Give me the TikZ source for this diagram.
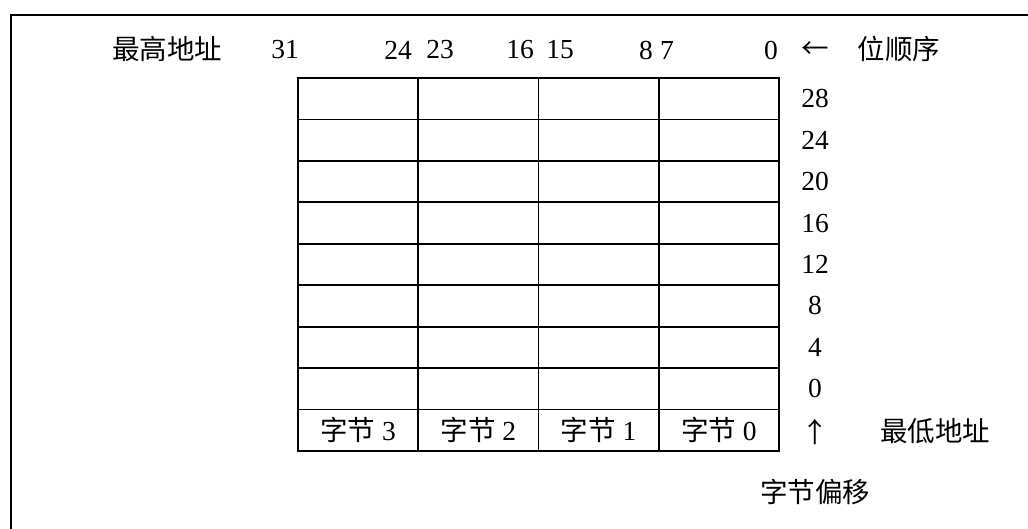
\documentclass[tikz,border=0pt]{standalone}
\usepackage{fontspec}
\setmainfont{Liberation Serif}
\newfontfamily\cjkfont{Noto Sans CJK SC}
\begin{document}
\begin{tikzpicture}[x=1pt,y=-1pt,
    cell/.style={draw,line width=1.8pt,minimum width=120.25pt,minimum height=41.44pt,inner sep=0pt,outer sep=0pt},
    lbl/.style={inner sep=0pt,font=\fontsize{27.5}{31}\selectfont}]
  \useasboundingbox (0,0) rectangle (1028,528);
  % frame
  \draw[line width=2pt] (11,560) -- (11,15) -- (1060,15);
  % memory words
  \foreach \r in {1,...,9}
    \foreach \c in {0,...,3}
      \node[cell] (w\r\c) at ({298+120.25*(\c+0.5)},{78+41.44*(\r-0.5)}) {};
  \foreach \c/\b in {0/3,1/2,2/1,3/0}
    \node[lbl] (byte\b) at (w9\c) {{\cjkfont 字节} \b};
  % byte offsets
  \foreach \r/\v in {1/28,2/24,3/20,4/16,5/12,6/8,7/4,8/0}
    \node[lbl] (off\v) at (815,{78+41.44*(\r-0.5)}) {\v};
  % bit order
  \foreach \x/\v in {285/31,398/24,440/23,520/16,560/15,646/8,667/7,771/0}
    \node[lbl] (bit\v) at (\x,50) {\v};
  \node[lbl] (high) at (167,49) {\cjkfont 最高地址};
  \node[lbl] (larr) at (815,50) {\cjkfont ←};
  \node[lbl] (order) at (899,49) {\cjkfont 位顺序};
  \node[lbl] (uarr) at (815,432) {\cjkfont ↑};
  \node[lbl] (low) at (935,431) {\cjkfont 最低地址};
  \node[lbl] (offset) at (815,492) {\cjkfont 字节偏移};
\end{tikzpicture}
\end{document}
